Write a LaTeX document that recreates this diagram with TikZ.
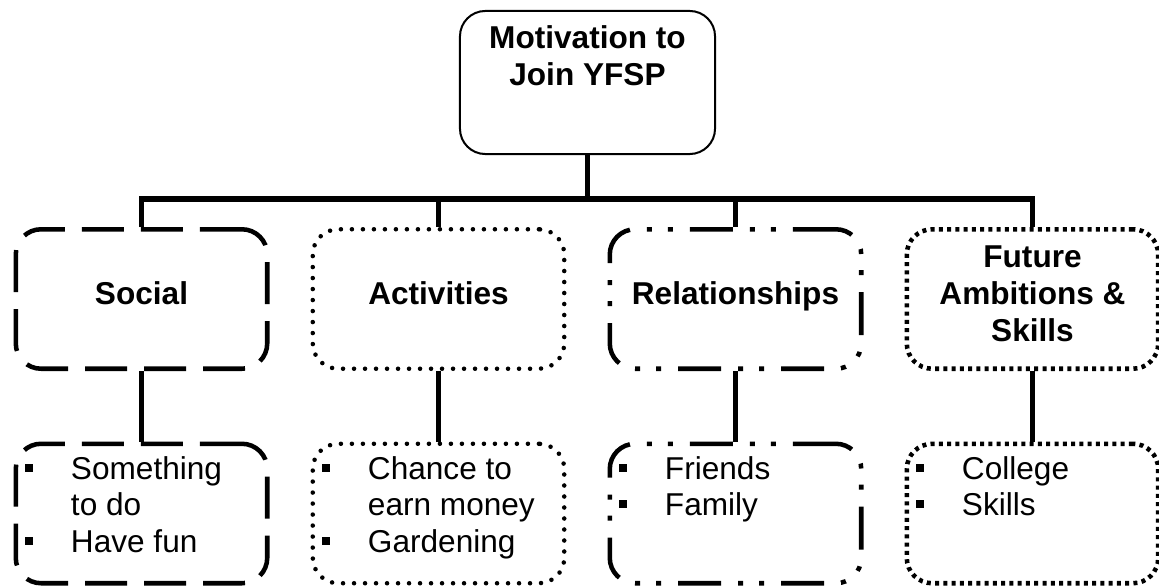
\documentclass[tikz,border=0pt]{standalone}
\usepackage{fontspec}
\setmainfont{Liberation Sans}
\usepackage{tikz}

\newcommand{\headtxt}[2][3pt]{\raisebox{0pt}[\height][\dimexpr\depth+#1\relax]{\begin{tabular}{@{}c@{}}#2\end{tabular}}}
\newcommand{\sqb}{\makebox[34.5pt][l]{\rule[5.8pt]{6pt}{6pt}}}

\tikzset{
  box/.style={rectangle, rounded corners=19pt, minimum width=188.6pt, minimum height=104.6pt, inner sep=0pt, line width=3.4pt},
  topbox/.style={box, line width=1.5pt, minimum width=191.3pt, minimum height=107.3pt, font=\bfseries\fontsize{23.7}{28}\selectfont},
  headbox/.style={box, font=\bfseries\fontsize{23.7}{28}\selectfont},
  itemtxt/.style={inner sep=0pt, anchor=base west, font=\fontsize{23.7}{27.5}\selectfont},
  longdash/.style={dash pattern=on 31.5pt off 12.75pt},
  rounddot/.style={line cap=round, dash pattern=on 0pt off 8.25pt},
  dashdotdot/.style={dash pattern=on 32.25pt off 12.75pt on 3.75pt off 12pt on 3.75pt off 12.75pt},
  squaredot/.style={dash pattern=on 3pt off 3.2pt},
  link/.style={line width=4.1pt}
}

\begin{document}
\begin{tikzpicture}[x=0.75pt, y=-0.75pt]
\useasboundingbox (0,0) rectangle (1159,588);

\node[topbox, draw] (motiv) at (587.5,82.5) {\headtxt[34pt]{Motivation to\\Join YFSP}};

% second row
\node[headbox, draw, longdash] (social) at (141.5,299) {\headtxt{Social}};
\node[headbox, draw, rounddot] (activ) at (438.5,299) {\headtxt{Activities}};
\node[headbox, draw, dashdotdot] (relat) at (735.5,299) {\headtxt{Relationships}};
\node[headbox, draw, squaredot] (future) at (1032.5,299) {\headtxt{Future\\Ambitions \&\\Skills}};

% third row
\node[box, draw, longdash] (socialL) at (141.5,513.5) {};
\node[box, draw, rounddot] (activL) at (438.5,513.5) {};
\node[box, draw, dashdotdot] (relatL) at (735.5,513.5) {};
\node[box, draw, squaredot] (futureL) at (1032.5,513.5) {};

\node[itemtxt] (socialT) at ([xshift=8.4pt,yshift=-28.3pt]socialL.north west)
  {\begin{tabular}[t]{@{}l@{}l@{}}\sqb&Something\\&to do\\\sqb&Have fun\end{tabular}};
\node[itemtxt] (activT) at ([xshift=8.4pt,yshift=-28.3pt]activL.north west)
  {\begin{tabular}[t]{@{}l@{}l@{}}\sqb&Chance to\\&earn money\\\sqb&Gardening\end{tabular}};
\node[itemtxt] (relatT) at ([xshift=8.4pt,yshift=-28.3pt]relatL.north west)
  {\begin{tabular}[t]{@{}l@{}l@{}}\sqb&Friends\\\sqb&Family\end{tabular}};
\node[itemtxt] (futureT) at ([xshift=8.4pt,yshift=-28.3pt]futureL.north west)
  {\begin{tabular}[t]{@{}l@{}l@{}}\sqb&College\\\sqb&Skills\end{tabular}};

% connectors
\coordinate (bar) at (587.5,199);
\draw[link] (motiv.south) -- (bar);
\draw[link] (social.north) |- (bar) -| (future.north);
\draw[link] (activ.north) |- (bar);
\draw[link] (relat.north) |- (bar);
\foreach \a/\b in {social/socialL, activ/activL, relat/relatL, future/futureL}
  \draw[link] (\a.south) -- (\b.north);
\end{tikzpicture}
\end{document}
